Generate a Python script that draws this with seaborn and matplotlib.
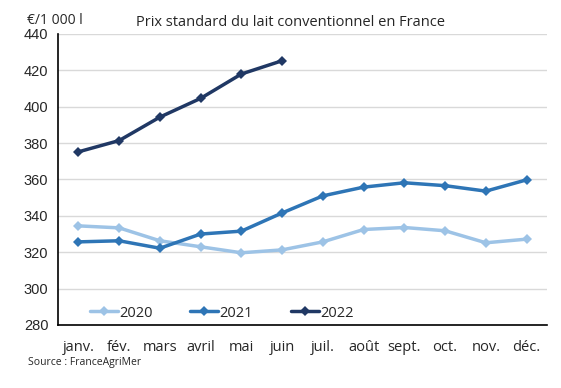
import numpy as np
import pandas as pd
import matplotlib
matplotlib.use("Agg")
import matplotlib.pyplot as plt
import seaborn as sns

# Month labels and monthly prices (€/1 000 l)
months = ["janv.", "fév.", "mars", "avril", "mai", "juin",
          "juil.", "août", "sept.", "oct.", "nov.", "déc."]
prix_2020 = [334.5, 333.4, 326.3, 323.0, 319.7, 321.3,
             325.7, 332.5, 333.6, 331.8, 325.2, 327.2]
prix_2021 = [325.7, 326.3, 322.2, 330.0, 331.6, 341.6,
             351.0, 355.8, 358.2, 356.6, 353.6, 359.8]
prix_2022 = [375.2, 381.4, 394.3, 404.6, 418.0, 425.3]

years = ["2020", "2021", "2022"]
colors = ["#9DC3E6", "#2E75B6", "#203864"]

rows = []
for year, values in zip(years, [prix_2020, prix_2021, prix_2022]):
    for i, v in enumerate(values):
        rows.append({"mois": i, "prix": v, "annee": year})
df = pd.DataFrame(rows)

sns.set_style("white")
plt.rcParams["font.family"] = ["Open Sans", "DejaVu Sans"]

fig = plt.figure(figsize=(5.61, 3.88), dpi=100)
ax = fig.add_axes([0.1034, 0.1624, 0.8716, 0.75])

sns.lineplot(data=df, x="mois", y="prix", hue="annee", palette=colors,
             marker="D", markersize=5.5, markeredgewidth=0, linewidth=2.5,
             ax=ax, legend=True)

ax.set_xlim(-0.5, 11.5)
ax.set_ylim(280, 440)
ax.set_yticks(np.arange(280, 441, 20))
ax.yaxis.grid(True, color="#d9d9d9", linewidth=1)
ax.set_axisbelow(True)

# category boundaries as tick marks, labels centered
ax.set_xticks(np.arange(-0.5, 12, 1))
ax.set_xticklabels([])
ax.set_xticks(np.arange(12), minor=True)
ax.set_xticklabels(months, minor=True, fontsize=10.5)
ax.tick_params(axis="x", which="major", direction="out", length=5, width=1, color="black")
ax.tick_params(axis="x", which="minor", length=0, pad=11)
ax.tick_params(axis="y", direction="out", length=4, width=1, color="black",
               labelsize=10.5, pad=3)
for lab in ax.get_yticklabels():
    lab.set_family(["Liberation Sans", "DejaVu Sans"])

for s in ["top", "right"]:
    ax.spines[s].set_visible(False)
for s in ["left", "bottom"]:
    ax.spines[s].set_color("black")
    ax.spines[s].set_linewidth(1.2)

ax.set_xlabel("")
ax.set_ylabel("")

handles, labels = ax.get_legend_handles_labels()
ax.legend(handles, labels, loc="lower center", ncol=3, frameon=False,
          fontsize=10.5, bbox_to_anchor=(0.335, -0.03), handlelength=1.9,
          handletextpad=0.1, columnspacing=2.6)

fig.text(0.517, 0.943, "Prix standard du lait conventionnel en France",
         ha="center", va="center", fontsize=10.5)
fig.text(0.048, 0.948, "€/1 000 l", ha="left", va="center", fontsize=10)
fig.text(0.05, 0.066, "Source : FranceAgriMer", ha="left", va="center", fontsize=7.5)

fig.savefig("out.png", dpi=100)
